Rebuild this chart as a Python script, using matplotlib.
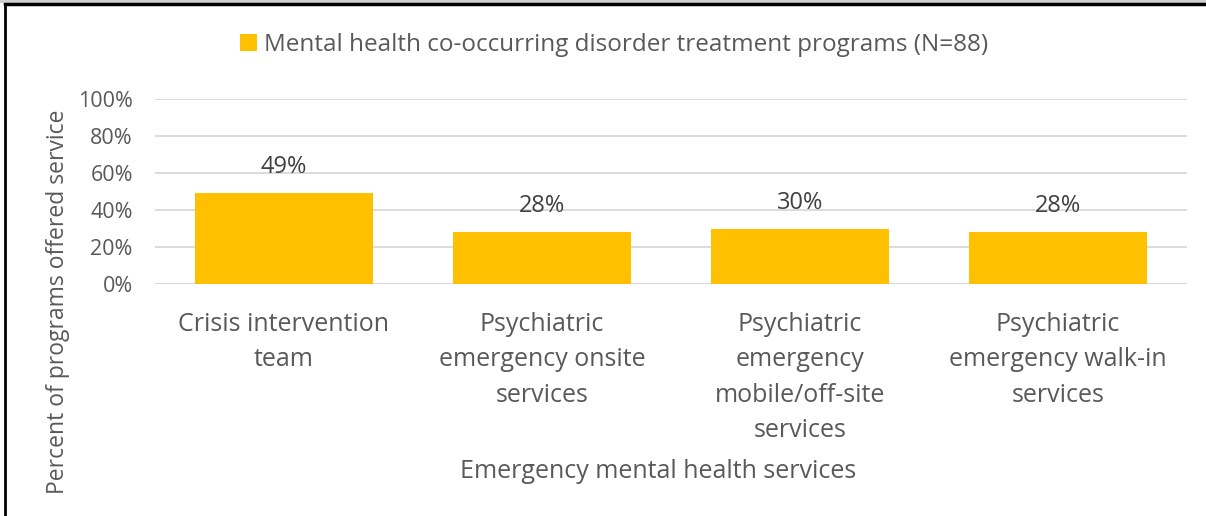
import matplotlib
matplotlib.use("Agg")
import matplotlib.pyplot as plt
from matplotlib.lines import Line2D
from matplotlib.patches import Rectangle

categories = [
    "Crisis intervention\nteam",
    "Psychiatric\nemergency onsite\nservices",
    "Psychiatric\nemergency\nmobile/off-site\nservices",
    "Psychiatric\nemergency walk-in\nservices",
]
values = [49, 28, 30, 28]
series_name = "Mental health co-occurring disorder treatment programs (N=88)"
yticks = [0, 20, 40, 60, 80, 100]

BAR = "#FFC000"
TXT = "#595959"

plt.rcParams["font.family"] = ["Open Sans", "DejaVu Sans"]

fig = plt.figure(figsize=(12.06, 5.16), dpi=100)
ax = fig.add_axes([155 / 1206, 1 - 284 / 516, 1032 / 1206, 185 / 516])

x = list(range(len(categories)))
ax.bar(x, values, width=0.69, color=BAR, zorder=3, label=series_name)
ax.set_xlim(-0.5, len(categories) - 0.5)
ax.set_ylim(0, 100)
ax.set_yticks(yticks)
ax.set_yticklabels([f"{v}%" for v in yticks], color=TXT, fontsize=15.5)
ax.yaxis.grid(True, color="#D9D9D9", lw=1.3, zorder=0)
ax.tick_params(axis="y", length=0, pad=16)
ax.tick_params(axis="x", length=0, pad=0)
ax.set_xticks(x)
ax.set_xticklabels([])
for s in ax.spines.values():
    s.set_visible(False)
ax.axhline(0, color="#D9D9D9", lw=1.3, zorder=2)

for xi, v in zip(x, values):
    ax.annotate(f"{v}%", (xi, v), xytext=(0, 10), textcoords="offset points",
                ha="center", va="bottom", fontsize=17, color="#404040")

# category labels
for xi, lab in zip(x, categories):
    ax.annotate(lab, (xi, 0), xytext=(0, -20), textcoords="offset points",
                ha="center", va="top", fontsize=18, color=TXT, linespacing=1.55)

fig.text(658 / 1206, 1 - 472 / 516, "Emergency mental health services",
         ha="center", va="center", fontsize=18, color=TXT)
fig.text(58 / 1206, 1 - 302 / 516, "Percent of programs offered service",
         ha="center", va="center", rotation=90, fontsize=16.5, color=TXT)

leg = ax.legend(loc="center", bbox_to_anchor=(614 / 1206, 1 - 45 / 516),
                bbox_transform=fig.transFigure, frameon=False, fontsize=17.5,
                handlelength=0.7, handleheight=0.7, handletextpad=0.3)
for t in leg.get_texts():
    t.set_color(TXT)

# frame: grey strip and black rule on top, black rule on the left
fig.patches.append(Rectangle((0, 1 - 3 / 516), 1, 3 / 516, transform=fig.transFigure,
                             color="#D0D0D0", lw=0))
fig.lines.append(Line2D([5 / 1206, 1], [1 - 4 / 516, 1 - 4 / 516],
                        transform=fig.transFigure, color="black", lw=2.5))
fig.lines.append(Line2D([5 / 1206, 5 / 1206], [0, 1 - 4 / 516],
                        transform=fig.transFigure, color="black", lw=2))

fig.savefig("out.png", dpi=100)
